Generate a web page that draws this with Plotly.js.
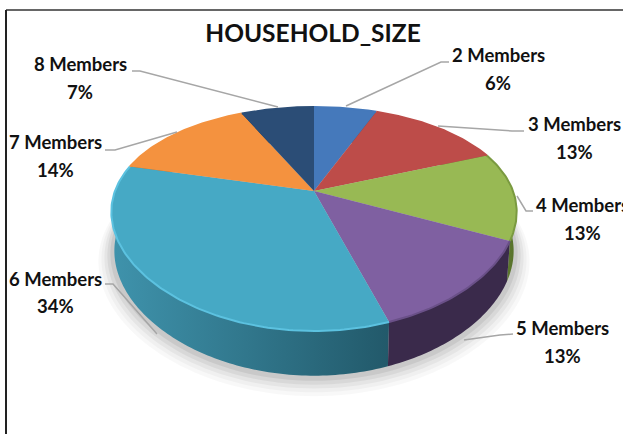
<!DOCTYPE html>
<html><head><meta charset="utf-8">
<script src="https://cdn.plot.ly/plotly-3.0.1.min.js"></script>
<style>html,body{margin:0;padding:0;background:#fff}#c{width:623px;height:434px}</style></head>
<body><div id="c"></div><script>
const categories=["2 Members","3 Members","4 Members","5 Members","6 Members","7 Members","8 Members"];
const shares=[6,13,13,13,34,14,7];
const topColors=["#4579bb","#bd4c49","#98b954","#7f60a1","#46a9c5","#f4923f","#2b4d76"];
const rimColors=["#4579bb","#bd4c49","#7a9a40","#6a5088","#5cc2e0","#f4923f","#2b4d76"];
const wallStart=["#2f5687","#873432","#6f8a39","#3a2a4b","#3f93ac","#b06a2c","#1e3654"];
const wallEnd=["#2f5687","#873432","#55702a","#3a2a4b","#22596a","#b06a2c","#1e3654"];
const labelCentres=[[498,55,83],[574,124,152],[582,205,233],[562,328,356],[55,279,306],[55,142,170],[80,64,92]];
const leaders=[[[449,441,346],[62,62,106]],[[524,512,438],[131,131,126]],[[533,526,517],[211,211,196]],[[513,500,464],[334,335,340]],[[105,113,157],[284,284,334]],[[105,115,177],[150,150,132]],[[132,140,278],[71,71,107]]];

// pie projection: a flat disc seen in perspective
const cx=314, cy=191, a=199, b=105, p=0.19, q=0.25;
function proj(deg,level,scale){
  const t=deg*Math.PI/180, d=-Math.cos(t), s=Math.sin(t), k=scale||1;
  const drop=level?38:0, bb=level?110:b, aa=level?196:a;
  return [cx+k*aa*s/(1-p*d), cy+drop+k*bb*d/(1-q*d)];
}
function arc(from,to,level){
  const n=Math.max(2,Math.ceil(Math.abs(to-from))), xs=[], ys=[];
  for(let i=0;i<=n;i++){const c=proj(from+(to-from)*i/n,level);xs.push(c[0]);ys.push(c[1]);}
  return [xs,ys];
}
const total=shares.reduce((m,v)=>m+v,0);
let run=0; const bounds=shares.map(v=>{const s=run/total*360;run+=v;return [s,run/total*360];});
const traces=[];
// soft shadow
[[16,.012],[13,.015],[10,.02],[7,.025],[4,.03]].forEach(([g,al])=>{
  const xs=[],ys=[];
  for(let i=0;i<=360;i+=2){const c=proj(i,1,1+g/200);xs.push(c[0]);ys.push(c[1]+g*0.55);}
  traces.push({type:"scatter",mode:"none",x:xs,y:ys,fill:"toself",fillcolor:`rgba(0,0,0,${al*2.2})`,hoverinfo:"skip",showlegend:false});
});
// side walls
const wallOrder=[0,1,6,5,2,4,3];
wallOrder.forEach(i=>{
  const [s,e]=bounds[i], A=arc(s,e,0), B=arc(e,s,1);
  traces.push({type:"scatter",mode:"none",name:categories[i]+" side",x:A[0].concat(B[0]),y:A[1].concat(B[1]),fill:"toself",
    fillgradient:{type:"horizontal",colorscale:[[0,wallStart[i]],[1,wallEnd[i]]]},hoverinfo:"skip",showlegend:false});
});
// top faces
categories.forEach((c,i)=>{
  const [s,e]=bounds[i], A=arc(s,e,0);
  traces.push({type:"scatter",mode:"none",name:c,x:[cx].concat(A[0],[cx]),y:[cy].concat(A[1],[cy]),fill:"toself",fillcolor:topColors[i],
    text:c+" "+shares[i]+"%",hoverinfo:"text",showlegend:false});
});
// rim highlights
categories.forEach((c,i)=>{
  const [s,e]=bounds[i], A=arc(s,e,0);
  traces.push({type:"scatter",mode:"lines",x:A[0],y:A[1],line:{color:rimColors[i],width:2},hoverinfo:"skip",showlegend:false});
});
// leader lines
leaders.forEach(l=>traces.push({type:"scatter",mode:"lines",x:l[0],y:l[1],line:{color:"#a6a6a6",width:1.5},hoverinfo:"skip",showlegend:false}));

const font={family:"Lato, Carlito, sans-serif",size:18.5,color:"#111"};
const annotations=[];
categories.forEach((c,i)=>{
  const [x,y1,y2]=labelCentres[i];
  annotations.push({xref:"x",yref:"y",x,y:y1,text:"<b>"+c+"</b>",showarrow:false,font,xanchor:"center",yanchor:"middle"});
  annotations.push({xref:"x",yref:"y",x,y:y2,text:"<b>"+shares[i]+"%</b>",showarrow:false,font,xanchor:"center",yanchor:"middle"});
});
const hidden=r=>({range:r,visible:false,fixedrange:true});
const layout={width:623,height:434,margin:{l:0,r:0,t:0,b:0},paper_bgcolor:"#fff",plot_bgcolor:"#fff",
  xaxis:hidden([0,623]),yaxis:hidden([434,0]),showlegend:false,
  title:{text:"<b>HOUSEHOLD_SIZE</b>",font:{family:"Lato, Carlito, sans-serif",size:24.5,color:"#111"},x:313/623,xanchor:"center",y:1-33/434,yanchor:"middle"},
  annotations,
  shapes:[{type:"line",xref:"x",yref:"y",x0:6,x1:623,y0:10,y1:10,line:{color:"#333",width:1.5}},
          {type:"line",xref:"x",yref:"y",x0:6,x1:6,y0:10,y1:434,line:{color:"#222",width:2}}]};
Plotly.newPlot("c",traces,layout,{displayModeBar:false,staticPlot:true});
</script></body></html>
